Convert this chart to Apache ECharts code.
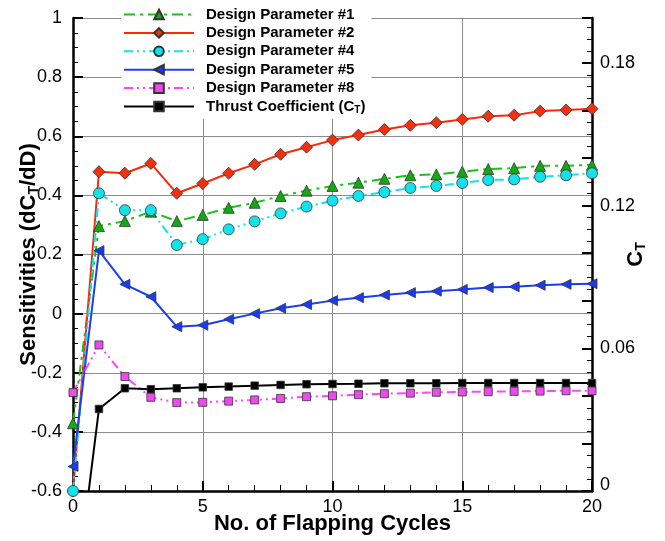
<!DOCTYPE html>
<html>
<head>
<meta charset="utf-8">
<script src="https://cdn.jsdelivr.net/npm/echarts@6/dist/echarts.min.js"></script>
<style>
  html, body { margin: 0; padding: 0; background: #fff; }
  #chart { width: 665px; height: 541px; }
</style>
</head>
<body>
<div id="chart"></div>
<script>
// Flapping cycle index (x axis)
const cycles = [0, 1, 2, 3, 4, 5, 6, 7, 8, 9, 10, 11, 12, 13, 14, 15, 16, 17, 18, 19, 20];

// Sensitivities dCT/dD for each design parameter (left axis)
const dp1 = [-0.371, 0.296, 0.313, 0.345, 0.313, 0.334, 0.358, 0.375, 0.398, 0.416, 0.432,
             0.443, 0.456, 0.468, 0.471, 0.480, 0.489, 0.492, 0.500, 0.500, 0.503];
const dp2 = [-0.600, 0.480, 0.475, 0.508, 0.407, 0.440, 0.475, 0.505, 0.539, 0.563, 0.587,
             0.604, 0.623, 0.637, 0.646, 0.657, 0.668, 0.671, 0.685, 0.689, 0.693];
const dp4 = [-0.600, 0.407, 0.350, 0.350, 0.232, 0.252, 0.285, 0.312, 0.339, 0.362, 0.382,
             0.398, 0.411, 0.425, 0.432, 0.442, 0.452, 0.454, 0.463, 0.468, 0.475];
const dp5 = [-0.517, 0.213, 0.099, 0.057, -0.044, -0.039, -0.019, 0.000, 0.018, 0.031, 0.044,
             0.054, 0.063, 0.071, 0.076, 0.082, 0.088, 0.091, 0.096, 0.099, 0.101];
const dp8 = [-0.267, -0.106, -0.213, -0.283, -0.301, -0.300, -0.296, -0.292, -0.287, -0.281, -0.278,
             -0.274, -0.271, -0.269, -0.266, -0.265, -0.264, -0.263, -0.262, -0.261, -0.261];

// Thrust coefficient CT (right axis)
const ct = [-0.053, 0.0345, 0.0432, 0.0428, 0.0432, 0.0436, 0.0439, 0.0443, 0.0446, 0.0449, 0.0450,
            0.0451, 0.0453, 0.0453, 0.0453, 0.0454, 0.0454, 0.0454, 0.0454, 0.0454, 0.0454];

// Series names and right-axis labelled ticks
const names = ['Design Parameter #1', 'Design Parameter #2', 'Design Parameter #4',
               'Design Parameter #5', 'Design Parameter #8', 'Thrust Coefficient (CT)'];
const ctLabelTicks = [0, 0.06, 0.12, 0.18];

const FONT = '"Liberation Sans", Arial, Helvetica, sans-serif';
const pairs = ys => cycles.map((x, i) => [x, ys[i]]);

const markerBorder = { borderColor: '#333', borderWidth: 0.8 };
const leftTriangle = 'path://M0,5 L10,0 L10,10 Z';

function lineSeries(name, ys, color, fill, symbol, size, dash, yAxisIndex) {
  return {
    name: name,
    type: 'line',
    yAxisIndex: yAxisIndex || 0,
    data: pairs(ys),
    symbol: symbol,
    symbolSize: size,
    showAllSymbol: true,
    clip: true,
    lineStyle: { color: color, width: 2, type: dash },
    itemStyle: Object.assign({ color: fill }, markerBorder),
    emphasis: { disabled: true },
    animation: false
  };
}

const chart = echarts.init(document.getElementById('chart'), null, { renderer: 'canvas' });

const subStyle = (size) => ({
  fontSize: size, fontWeight: 'bold', fontFamily: FONT, color: '#000',
  verticalAlign: 'bottom', padding: [Math.round(size * 0.7), 0, 0, 0]
});

chart.setOption({
  backgroundColor: '#fff',
  animation: false,
  grid: { left: 73, right: 73, top: 18, bottom: 50, containLabel: false, outerBoundsMode: 'none' },
  legend: {
    data: names,
    orient: 'vertical',
    left: 121,
    top: 3,
    padding: [4, 6, 4, 2],
    itemWidth: 70,
    itemHeight: 12,
    itemGap: 3.4,
    selectedMode: false,
    backgroundColor: '#fff',
    textStyle: {
      fontFamily: FONT, fontSize: 15, fontWeight: 'bold', color: '#000',
      padding: [0, 0, 0, 7],
      rich: { sub: subStyle(10) }
    },
    formatter: n => n === 'Thrust Coefficient (CT)' ? 'Thrust Coefficient (C{sub|T})' : n
  },
  xAxis: {
    type: 'value',
    min: 0, max: 20, interval: 5,
    name: 'No. of Flapping Cycles',
    nameLocation: 'middle',
    nameGap: 22,
    nameMoveOverlap: false,
    nameTextStyle: { fontFamily: FONT, fontSize: 22, fontWeight: 'bold', color: '#000' },
    axisLine: { show: true, onZero: false, lineStyle: { color: '#000', width: 2.5 } },
    axisTick: { show: true, inside: true, length: 10, lineStyle: { color: '#000', width: 2 } },
    minorTick: { show: true, splitNumber: 5, length: 6, lineStyle: { color: '#000', width: 1 } },
    axisLabel: { fontFamily: FONT, fontSize: 18, color: '#000', margin: 7 },
    splitLine: { show: true, lineStyle: { color: '#8c8c8c', width: 1 } }
  },
  yAxis: [
    {
      type: 'value',
      position: 'left',
      min: -0.6, max: 1, interval: 0.2,
      name: 'Sensitivities (dC{sub|T}/dD)',
      nameLocation: 'middle',
      nameRotate: 90,
      nameGap: 32,
      nameMoveOverlap: false,
      nameTextStyle: {
        fontFamily: FONT, fontSize: 22, fontWeight: 'bold', color: '#000',
        rich: { sub: subStyle(14) }
      },
      axisLine: { show: true, onZero: false, lineStyle: { color: '#000', width: 2.5 } },
      axisTick: { show: true, inside: true, length: 10, lineStyle: { color: '#000', width: 2 } },
      minorTick: { show: true, splitNumber: 4, length: 5, lineStyle: { color: '#000', width: 1 } },
      axisLabel: { fontFamily: FONT, fontSize: 18, color: '#000', margin: 11 },
      splitLine: { show: true, lineStyle: { color: '#8c8c8c', width: 1 } }
    },
    {
      type: 'value',
      position: 'right',
      min: 0, max: 0.1989, interval: 0.02,
      name: '{m|C}{sub|T}',
      nameLocation: 'middle',
      nameRotate: 90,
      nameGap: 32,
      nameMoveOverlap: false,
      nameTextStyle: {
        fontFamily: FONT, fontSize: 22, fontWeight: 'bold', color: '#000',
        rich: { m: { fontFamily: FONT, fontSize: 22, fontWeight: 'bold', color: '#000' }, sub: subStyle(14) }
      },
      axisLine: { show: true, onZero: false, lineStyle: { color: '#000', width: 2.5 } },
      axisTick: { show: true, inside: true, length: 10, lineStyle: { color: '#000', width: 2 } },
      minorTick: { show: true, splitNumber: 4, length: 5, lineStyle: { color: '#000', width: 1 } },
      axisLabel: {
        fontFamily: FONT, fontSize: 18, color: '#000', margin: 8,
        formatter: v => {
          const hit = ctLabelTicks.find(t => Math.abs(t - v) < 1e-6);
          if (hit === undefined) return '';
          return hit === 0 ? '{lift|0}' : String(hit);
        },
        rich: { lift: { fontFamily: FONT, fontSize: 18, color: '#000', padding: [0, 0, 12, 0] } }
      },
      splitLine: { show: false }
    }
  ],
  series: [
    lineSeries(names[0], dp1, '#1cc01c', '#12aa12', 'triangle', 11, [11, 5, 3, 5]),
    lineSeries(names[1], dp2, '#f72a0c', '#f0300e', 'diamond', 12, 'solid'),
    lineSeries(names[2], dp4, '#10e4ea', '#14e2ea', 'circle', 11, [9, 4, 2, 4, 2, 4]),
    lineSeries(names[3], dp5, '#1c3ff0', '#1a3cf0', leftTriangle, 10, 'solid'),
    lineSeries(names[4], dp8, '#ff45ff', '#ee48ee', 'rect', 8, [9, 4, 2, 4, 2, 4]),
    lineSeries(names[5], ct, '#000', '#000', 'rect', 7.5, 'solid', 1)
  ]
});
</script>
</body>
</html>
